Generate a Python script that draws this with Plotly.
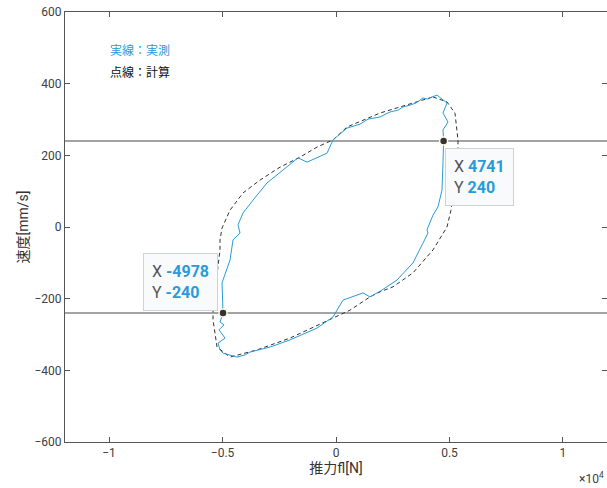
import plotly.graph_objects as go

# Measured (実測) loop, force [N] and speed [mm/s]
meas_x = [4449, 4890, 4713, 4934, 4713, 4741, 4713, 4669, 4493, 4273, 4009, 4053, 3832, 3392, 2687,
          2026, 1498, 1189, 308, -132, -837, -2026, -2900, -3480, -3788, -4009, -4361, -4978, -5110,
          -5198, -4890, -5154, -4934, -5110, -4978, -5022, -4669, -4537, -4229, -4317, -4097, -3656,
          -3040, -2335, -1674, -1277, -837, -396, -132, 485, 1057, 1410, 1938, 2379, 2731, 2951,
          3260, 3524, 3832, 4053, 4229, 4449]
meas_y = [368, 346, 318, 293, 271, 240, 179, 103, 56, 33, -8, -17, -45, -100, -148,
          -176, -195, -184, -204, -251, -282, -315, -335, -343, -349, -357, -363, -352, -343,
          -324, -310, -287, -273, -265, -240, -156, -92, -36, -17, 6, 39, 75,
          123, 159, 193, 181, 193, 206, 243, 276, 287, 301, 307, 321, 326, 335,
          340, 346, 360, 357, 363, 368]

# Computed (計算) loop
calc_x = [4273, 4890, 5242, 5374, 5374, 5330, 5110, 5066, 4890, 4273, 3392, 2511, 1938, 1498, 617,
          -573, -2026, -3480, -4669, -5242, -5418, -5418, -5110, -5110, -5022, -4669, -4097, -3348,
          -2467, -1586, -837, -132, 485, 1938, 3392, 4273]
calc_y = [363, 349, 318, 243, 187, 145, 67, 47, 0, -64, -128, -167, -181, -195, -232,
          -268, -310, -343, -363, -335, -259, -223, -64, -36, -3, 47, 95, 131,
          167, 195, 223, 243, 279, 318, 346, 363]

ref_levels = [240, -240]
tip_x = [4741, -4978]
tip_y = [240, -240]

y_ticks = [-600, -400, -200, 0, 200, 400, 600]
x_ticks = [-10000, -5000, 0, 5000, 10000]
x_tick_text = ["\u22121", "\u22120.5", "0", "0.5", "1"]
y_tick_text = ["\u2212600", "\u2212400", "\u2212200", "0", "200", "400", "600"]

BLUE = "#2A9BD8"
FONT = "Roboto, 'Noto Sans CJK JP', sans-serif"

fig = go.Figure()
for lv in ref_levels:
    fig.add_trace(go.Scatter(x=[-12000, 12000], y=[lv, lv], mode="lines",
                             line=dict(color="#333333", width=0.9), hoverinfo="skip", showlegend=False))
fig.add_trace(go.Scatter(x=calc_x, y=calc_y, mode="lines",
                         line=dict(color="#333333", width=1, dash="4px,3px"), showlegend=False))
fig.add_trace(go.Scatter(x=meas_x, y=meas_y, mode="lines",
                         line=dict(color=BLUE, width=1), showlegend=False))
fig.add_trace(go.Scatter(x=tip_x, y=tip_y, mode="markers",
                         marker=dict(color="#333333", size=8, line=dict(color="#fffbe0", width=1.5)),
                         showlegend=False))

axis_common = dict(showgrid=False, zeroline=False, showline=True, linecolor="#555555", linewidth=1,
                   ticks="inside", ticklen=5, tickcolor="#555555", mirror="ticks", automargin=False,
                   tickfont=dict(family=FONT, size=12, color="#404040"))

fig.update_layout(
    width=607, height=488,
    margin=dict(l=65, r=0, t=12, b=46),
    paper_bgcolor="white", plot_bgcolor="white",
    font=dict(family=FONT),
    xaxis=dict(range=[-11940, 11940], tickvals=x_ticks, ticktext=x_tick_text,
               title=dict(text="推力fl[N]", font=dict(family=FONT, size=14, color="#333333"), standoff=2),
               **axis_common),
    yaxis=dict(range=[-600, 600], tickvals=y_ticks, ticktext=y_tick_text,
               title=dict(text="速度[mm/s]", font=dict(family=FONT, size=14, color="#333333"), standoff=2),
               **axis_common),
)

annotations = [
    dict(x=-10050, y=493, xref="x", yref="y", text="実線：実測", showarrow=False,
         xanchor="left", font=dict(family=FONT, size=12, color=BLUE)),
    dict(x=-10050, y=432, xref="x", yref="y", text="点線：計算", showarrow=False,
         xanchor="left", font=dict(family=FONT, size=12, color="#111111")),
    dict(x=0.998, y=-0.083, xref="paper", yref="paper", text="×10<sup>4</sup>", showarrow=False,
         xanchor="right", yanchor="middle", font=dict(family=FONT, size=12, color="#404040")),
]
tip_texts = [
    "X <b><span style='color:%s'>%d</span></b><br>Y <b><span style='color:%s'>%d</span></b>" % (BLUE, tip_x[0], BLUE, tip_y[0]),
    "X <b><span style='color:%s'>%d</span></b><br>Y <b><span style='color:%s'>%d</span></b>" % (BLUE, tip_x[1], BLUE, tip_y[1]),
]
annotations.append(dict(x=tip_x[0], y=tip_y[0], xref="x", yref="y", text=tip_texts[0], showarrow=False,
                        xanchor="left", yanchor="top", xshift=1, yshift=-7, align="left",
                        bgcolor="#f8fafb", bordercolor="#cfd3d6", borderwidth=1, borderpad=8,
                        font=dict(family=FONT, size=16, color="#555555")))
annotations.append(dict(x=tip_x[1], y=tip_y[1], xref="x", yref="y", text=tip_texts[1], showarrow=False,
                        xanchor="right", yanchor="bottom", xshift=-5, yshift=2, align="left",
                        bgcolor="#f8fafb", bordercolor="#cfd3d6", borderwidth=1, borderpad=8,
                        font=dict(family=FONT, size=16, color="#555555")))
fig.update_layout(annotations=annotations)

fig.write_html("out.html", config={"displayModeBar": False},
               post_script="document.body.style.margin='0px';")
